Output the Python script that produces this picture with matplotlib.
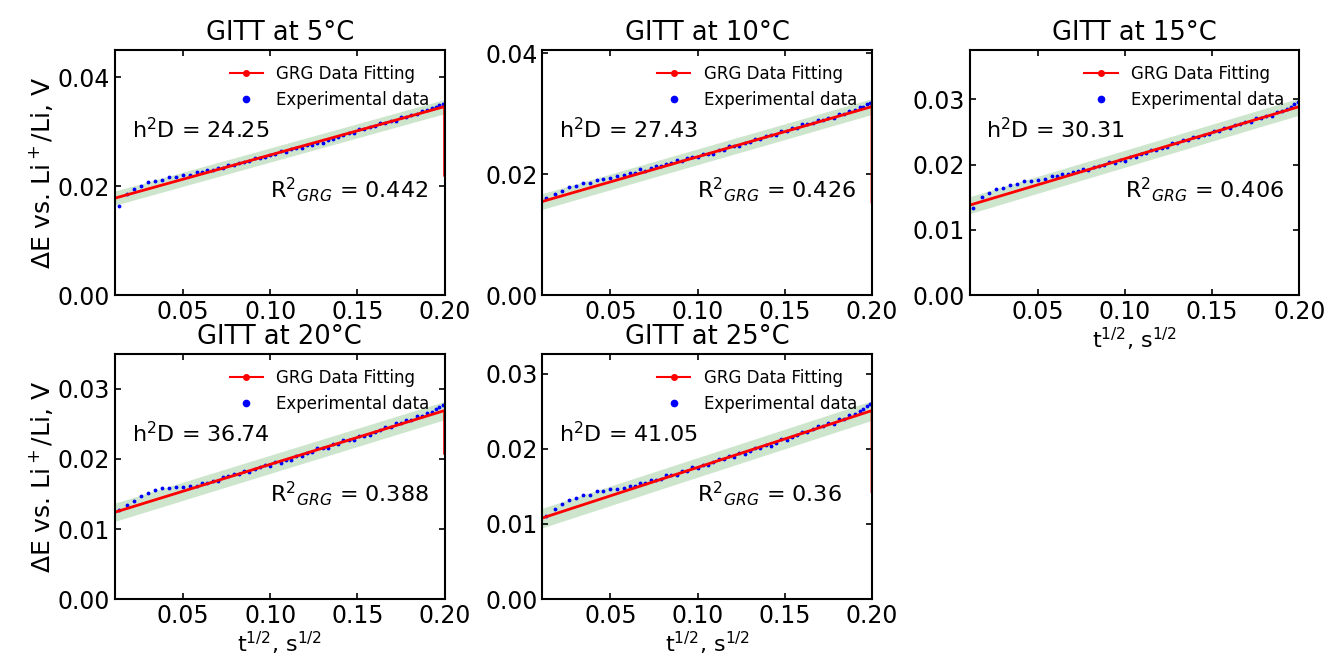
import numpy as np
from matplotlib import pyplot as plt
from matplotlib.lines import Line2D
from matplotlib.ticker import MultipleLocator


titles = ["GITT at 5°C", "GITT at 10°C", "GITT at 15°C", "GITT at 20°C", "GITT at 25°C"]
h2d = ["24.25", "27.43", "30.31", "36.74", "41.05"]
r2 = ["0.442", "0.426", "0.406", "0.388", "0.36"]

# t^1/2 values (s^1/2), shared by all temperatures
x_data = [0.013, 0.018, 0.022, 0.026, 0.030, 0.034, 0.038, 0.042, 0.046, 0.050,
          0.054, 0.058, 0.061, 0.064, 0.067, 0.070, 0.073, 0.076, 0.079, 0.082,
          0.085, 0.088, 0.091, 0.094, 0.097, 0.100, 0.103, 0.106, 0.109, 0.112,
          0.115, 0.118, 0.121, 0.124, 0.127, 0.130, 0.133, 0.136, 0.139, 0.142,
          0.145, 0.148, 0.151, 0.154, 0.157, 0.160, 0.163, 0.166, 0.169, 0.172,
          0.175, 0.178, 0.181, 0.184, 0.187, 0.190, 0.193, 0.195, 0.197, 0.199]

# experimental dE, V
y_5C = [0.0163, 0.0186, 0.0194, 0.0201, 0.0208, 0.0210, 0.0212, 0.0217, 0.0217, 0.0220,
        0.0221, 0.0226, 0.0226, 0.0229, 0.0230, 0.0234, 0.0234, 0.0238, 0.0239, 0.0243,
        0.0245, 0.0246, 0.0251, 0.0252, 0.0253, 0.0258, 0.0259, 0.0264, 0.0263, 0.0268,
        0.0270, 0.0270, 0.0275, 0.0276, 0.0279, 0.0280, 0.0285, 0.0286, 0.0291, 0.0293,
        0.0297, 0.0298, 0.0304, 0.0304, 0.0309, 0.0311, 0.0315, 0.0316, 0.0320, 0.0320,
        0.0326, 0.0327, 0.0331, 0.0333, 0.0338, 0.0339, 0.0344, 0.0345, 0.0348, 0.0351]
y_10C = [0.0160, 0.0168, 0.0173, 0.0179, 0.0181, 0.0186, 0.0186, 0.0191, 0.0192, 0.0194,
         0.0197, 0.0198, 0.0202, 0.0202, 0.0208, 0.0206, 0.0211, 0.0214, 0.0213, 0.0217,
         0.0219, 0.0223, 0.0222, 0.0227, 0.0228, 0.0228, 0.0234, 0.0234, 0.0234, 0.0240,
         0.0240, 0.0246, 0.0246, 0.0247, 0.0252, 0.0253, 0.0258, 0.0259, 0.0264, 0.0265,
         0.0265, 0.0271, 0.0271, 0.0277, 0.0277, 0.0283, 0.0283, 0.0284, 0.0289, 0.0290,
         0.0293, 0.0293, 0.0299, 0.0300, 0.0305, 0.0306, 0.0311, 0.0311, 0.0316, 0.0318]
y_15C = [0.0133, 0.0150, 0.0157, 0.0162, 0.0164, 0.0169, 0.0170, 0.0175, 0.0175, 0.0177,
         0.0178, 0.0183, 0.0182, 0.0185, 0.0186, 0.0189, 0.0190, 0.0193, 0.0192, 0.0197,
         0.0198, 0.0199, 0.0204, 0.0202, 0.0207, 0.0206, 0.0211, 0.0212, 0.0217, 0.0218,
         0.0222, 0.0222, 0.0226, 0.0227, 0.0233, 0.0233, 0.0237, 0.0237, 0.0242, 0.0243,
         0.0246, 0.0247, 0.0252, 0.0252, 0.0256, 0.0256, 0.0261, 0.0262, 0.0265, 0.0266,
         0.0271, 0.0271, 0.0275, 0.0275, 0.0281, 0.0282, 0.0286, 0.0289, 0.0293, 0.0296]
y_20C = [0.0127, 0.0134, 0.0140, 0.0147, 0.0151, 0.0156, 0.0158, 0.0159, 0.0160, 0.0160,
         0.0161, 0.0162, 0.0165, 0.0166, 0.0169, 0.0169, 0.0174, 0.0175, 0.0179, 0.0179,
         0.0183, 0.0182, 0.0186, 0.0188, 0.0192, 0.0190, 0.0195, 0.0194, 0.0198, 0.0199,
         0.0204, 0.0204, 0.0209, 0.0210, 0.0215, 0.0215, 0.0216, 0.0221, 0.0221, 0.0227,
         0.0227, 0.0227, 0.0232, 0.0233, 0.0234, 0.0239, 0.0241, 0.0245, 0.0245, 0.0251,
         0.0251, 0.0255, 0.0256, 0.0261, 0.0261, 0.0266, 0.0267, 0.0271, 0.0274, 0.0277]
y_25C = [0.0111, 0.0120, 0.0127, 0.0132, 0.0134, 0.0139, 0.0139, 0.0144, 0.0144, 0.0146,
         0.0147, 0.0148, 0.0151, 0.0150, 0.0154, 0.0154, 0.0158, 0.0159, 0.0160, 0.0165,
         0.0165, 0.0165, 0.0171, 0.0171, 0.0176, 0.0174, 0.0179, 0.0178, 0.0182, 0.0187,
         0.0186, 0.0190, 0.0189, 0.0194, 0.0193, 0.0197, 0.0201, 0.0201, 0.0205, 0.0204,
         0.0208, 0.0213, 0.0212, 0.0216, 0.0218, 0.0223, 0.0222, 0.0226, 0.0231, 0.0230,
         0.0234, 0.0233, 0.0240, 0.0240, 0.0245, 0.0246, 0.0251, 0.0253, 0.0257, 0.0260]
y_all = [y_5C, y_10C, y_15C, y_20C, y_25C]

# GRG fit: value at first point, at last point, and the final drop point
x_fit = [0.011, 0.2, 0.2]
fit_start = [0.0178, 0.0155, 0.0138, 0.0124, 0.0108]
fit_end = [0.0346, 0.0312, 0.0289, 0.0269, 0.0251]
fit_drop = [0.0220, 0.0154, 0.0255, 0.0208, 0.0143]
band = 0.0013
y_step = [0.02, 0.02, 0.01, 0.01, 0.01]

fig = plt.figure(figsize=(13.3, 6.62), dpi=100)
axes = fig.subplots(2, 3)
fig.subplots_adjust(left=0.0865, right=0.977, top=0.9245, bottom=0.095,
                    wspace=0.297, hspace=0.24)
axes[1, 2].remove()
axs = [axes[0, 0], axes[0, 1], axes[0, 2], axes[1, 0], axes[1, 1]]

for i, ax in enumerate(axs):
    ax.fill_between(x_fit[:2], [fit_start[i] - band, fit_end[i] - band],
                    [fit_start[i] + band, fit_end[i] + band],
                    color='green', alpha=0.2, lw=0)
    ax.plot(x_data, y_all[i], '.', color='blue', ms=3.5)
    ax.plot(x_fit, [fit_start[i], fit_end[i], fit_drop[i]], color='red', lw=2)

    ax.set_xlim(0.011, 0.2)
    ax.set_ylim(0, fit_end[i] * 1.3)
    ax.xaxis.set_major_locator(MultipleLocator(0.05))
    ax.yaxis.set_major_locator(MultipleLocator(y_step[i]))
    ax.tick_params(direction='in', top=True, right=True, labelsize=17, length=4, width=1.2)
    for s in ax.spines.values():
        s.set_linewidth(1.5)
    ax.set_title(titles[i], fontsize=18.5, pad=7)

    ax.text(0.05, 0.675, "h$^2$D = " + h2d[i], transform=ax.transAxes, fontsize=16, va='center')
    ax.text(0.47, 0.43, "R$^2$$_{GRG}$ = " + r2[i], transform=ax.transAxes, fontsize=16, va='center')

    handles = [Line2D([], [], color='red', lw=1.5, marker='o', ms=4),
               Line2D([], [], color='blue', ls='none', marker='o', ms=4.5)]
    ax.legend(handles, ["GRG Data Fitting", "Experimental data"], loc='upper right',
              frameon=False, fontsize=12)

for ax in [axs[0], axs[3]]:
    ax.set_ylabel("ΔE vs. Li$^+$/Li, V", fontsize=18, labelpad=2)
for ax in [axs[2], axs[3], axs[4]]:
    ax.set_xlabel("t$^{1/2}$, s$^{1/2}$", fontsize=16, labelpad=1)

plt.savefig("out.png")
